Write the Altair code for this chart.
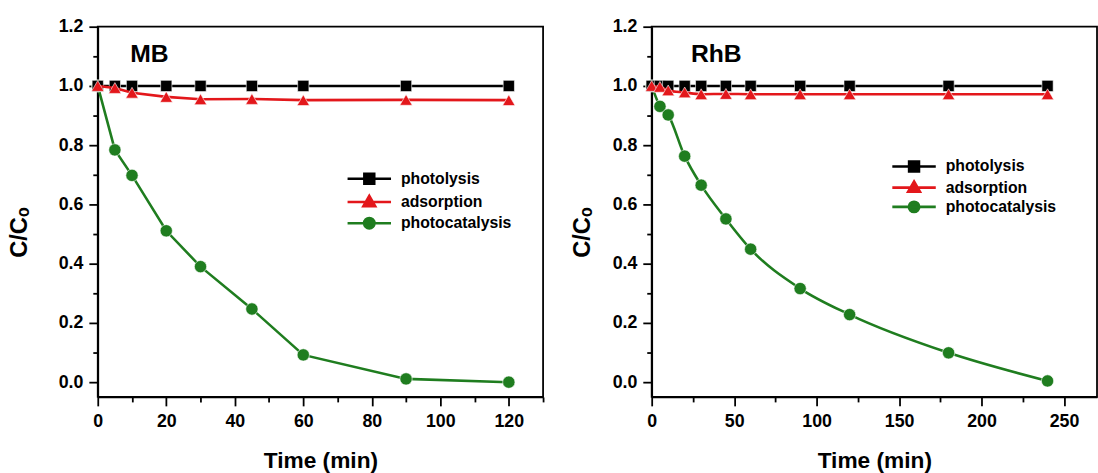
import altair as alt
import pandas as pd

# ---------------- data ----------------
SERIES = ["photolysis", "adsorption", "photocatalysis"]
COLORS = ["#000000", "#e3171b", "#1f7d1f"]
MARKERS = ["square", "triangle-up", "circle"]
MARKER_SIZES = [130, 160, 155]
LEGEND_PATHS = [
    "M-4.4,0H4.4M-1,-1H1V1H-1Z",
    "M-4.4,0H4.4M0,-1.25L1.2,0.85H-1.2Z",
    "M-4.4,0H4.4M-1.05,0A1.05,1.05 0 1,0 1.05,0A1.05,1.05 0 1,0 -1.05,0Z",
]

MB_TIME = [0, 5, 10, 20, 30, 45, 60, 90, 120]
MB_PHOTOLYSIS = [1.0, 1.0, 1.0, 1.0, 1.0, 1.0, 1.0, 1.0, 1.0]
MB_ADSORPTION = [1.0, 0.993, 0.977, 0.963, 0.955, 0.956, 0.952, 0.953, 0.952]
MB_PHOTOCAT = [1.0, 0.784, 0.698, 0.511, 0.390, 0.247, 0.092, 0.011, 0.0]

RHB_TIME = [0, 5, 10, 20, 30, 45, 60, 90, 120, 180, 240]
RHB_PHOTOLYSIS = [1.0, 1.0, 1.0, 1.0, 1.0, 1.0, 1.0, 1.0, 1.0, 1.0, 1.0]
RHB_ADSORPTION = [1.0, 0.997, 0.985, 0.978, 0.972, 0.973, 0.972, 0.972, 0.972, 0.972, 0.972]
RHB_PHOTOCAT = [1.0, 0.931, 0.902, 0.763, 0.665, 0.551, 0.449, 0.316, 0.228, 0.099, 0.004]

Y_MAJOR = [0.0, 0.2, 0.4, 0.6, 0.8, 1.0, 1.2]
Y_MINOR = [0.1, 0.3, 0.5, 0.7, 0.9, 1.1]

FONT = "Liberation Sans"


def long_df(time, phot, ads, pc):
    rows = []
    for name, vals in zip(SERIES, [phot, ads, pc]):
        for t, v in zip(time, vals):
            rows.append({"t": t, "v": v, "series": name})
    return pd.DataFrame(rows)


def panel(label, label_pos, time, phot, ads, pc, xdomain, xmajor, xminor,
          interp, legend_xy, row_pad, title_x, title_y):
    df = long_df(time, phot, ads, pc)
    xs = alt.Scale(domain=xdomain, nice=False, zero=False)
    ys = alt.Scale(domain=[-0.05, 1.2], nice=False, zero=False)
    cs = alt.Scale(domain=SERIES, range=COLORS)

    x_axis = alt.Axis(values=xmajor, title="Time (min)", grid=False, format="d",
                      tickSize=9, tickWidth=1.8, domainWidth=1.8,
                      domainColor="black", tickColor="black",
                      labelFont=FONT, labelFontSize=18, labelFontWeight="bold",
                      labelColor="black", labelPadding=7, labelFlush=False,
                      labelOverlap=False,
                      titleFont=FONT, titleFontSize=23, titleFontWeight="bold",
                      titleColor="black", titlePadding=19)
    y_axis = alt.Axis(values=Y_MAJOR, title="C/Cₒ", grid=False, format=".1f",
                      tickSize=9, tickWidth=1.8, domainWidth=1.8,
                      domainColor="black", tickColor="black",
                      labelFont=FONT, labelFontSize=18, labelFontWeight="bold",
                      labelColor="black", labelPadding=6, labelFlush=False,
                      labelOverlap=False,
                      titleFont=FONT, titleFontSize=24, titleFontWeight="bold",
                      titleColor="black", titleX=title_x, titleY=title_y)

    X = alt.X("t:Q", scale=xs, axis=x_axis)
    Y = alt.Y("v:Q", scale=ys, axis=y_axis)

    layers = []
    # draw order like the original: photocatalysis, photolysis, adsorption
    for idx in [2, 0, 1]:
        s = SERIES[idx]
        base = alt.Chart(df).transform_filter(alt.datum.series == s)
        ln = base.mark_line(strokeWidth=2.6, interpolate=interp, color=COLORS[idx]).encode(x=X, y=Y)
        pts = base.mark_point(
            shape=MARKERS[idx], filled=True, size=MARKER_SIZES[idx], opacity=1,
            fill=COLORS[idx], stroke="white", strokeWidth=0.6,
        ).encode(x=X, y=Y)
        layers += [ln, pts]

    leg = alt.Legend(title=None, orient="none", legendX=legend_xy[0], legendY=legend_xy[1],
                     symbolSize=100, symbolStrokeWidth=2.6, symbolOpacity=1,
                     labelFont=FONT, labelFontSize=16, labelFontWeight="bold",
                     labelColor="black", labelOffset=24, rowPadding=row_pad, padding=0)
    legend_layer = alt.Chart(df).transform_filter("datum.v > 5").mark_point(
        filled=True, opacity=1
    ).encode(
        x=X, y=Y,
        color=alt.Color("series:N", scale=cs, legend=leg, sort=SERIES),
        stroke=alt.Stroke("series:N", scale=cs, legend=leg, sort=SERIES),
        shape=alt.Shape("series:N", scale=alt.Scale(domain=SERIES, range=LEGEND_PATHS),
                        legend=leg, sort=SERIES),
    )
    layers.append(legend_layer)

    lab_df = pd.DataFrame({"t": [label_pos[0]], "v": [label_pos[1]], "txt": [label]})
    text = alt.Chart(lab_df).mark_text(
        font=FONT, fontSize=25, fontWeight="bold", align="left", baseline="middle",
        color="black"
    ).encode(x=X, y=Y, text="txt:N")
    layers.append(text)

    content = alt.layer(*layers)

    minor = alt.Chart(df).mark_point(opacity=0).encode(
        x=alt.X("t:Q", scale=xs, axis=alt.Axis(values=xminor, orient="bottom", labels=False,
                                               title=None, grid=False, domain=False,
                                               tickSize=5, tickWidth=1.8, tickColor="black")),
        y=alt.Y("v:Q", scale=ys, axis=alt.Axis(values=Y_MINOR, orient="left", labels=False,
                                               title=None, grid=False, domain=False,
                                               tickSize=5, tickWidth=1.8, tickColor="black")),
    )

    return alt.layer(content, minor).resolve_axis(x="independent", y="independent").properties(
        width=451, height=375
    )


left = panel("MB", (9.5, 1.106), MB_TIME, MB_PHOTOLYSIS, MB_ADSORPTION, MB_PHOTOCAT,
             [0, 130], [0, 20, 40, 60, 80, 100, 120],
             [10, 30, 50, 70, 90, 110, 130], "linear", (267, 146), 0.5, -67, 208)
right = panel("RhB", (23.8, 1.106), RHB_TIME, RHB_PHOTOLYSIS, RHB_ADSORPTION, RHB_PHOTOCAT,
              [0, 270], [0, 50, 100, 150, 200, 250],
              [25, 75, 125, 175, 225], "monotone", (257.7, 133.5), -1.5, -58, 208)

chart = alt.hconcat(left, right, spacing=25).resolve_scale(
    color="independent", stroke="independent", shape="independent"
).properties(
    padding={"left": 7, "top": 14, "right": 0, "bottom": 0},
    background="white",
).configure_view(stroke="black", strokeWidth=1.8)

chart.save("out.html", embed_options={"renderer": "svg", "actions": False})
